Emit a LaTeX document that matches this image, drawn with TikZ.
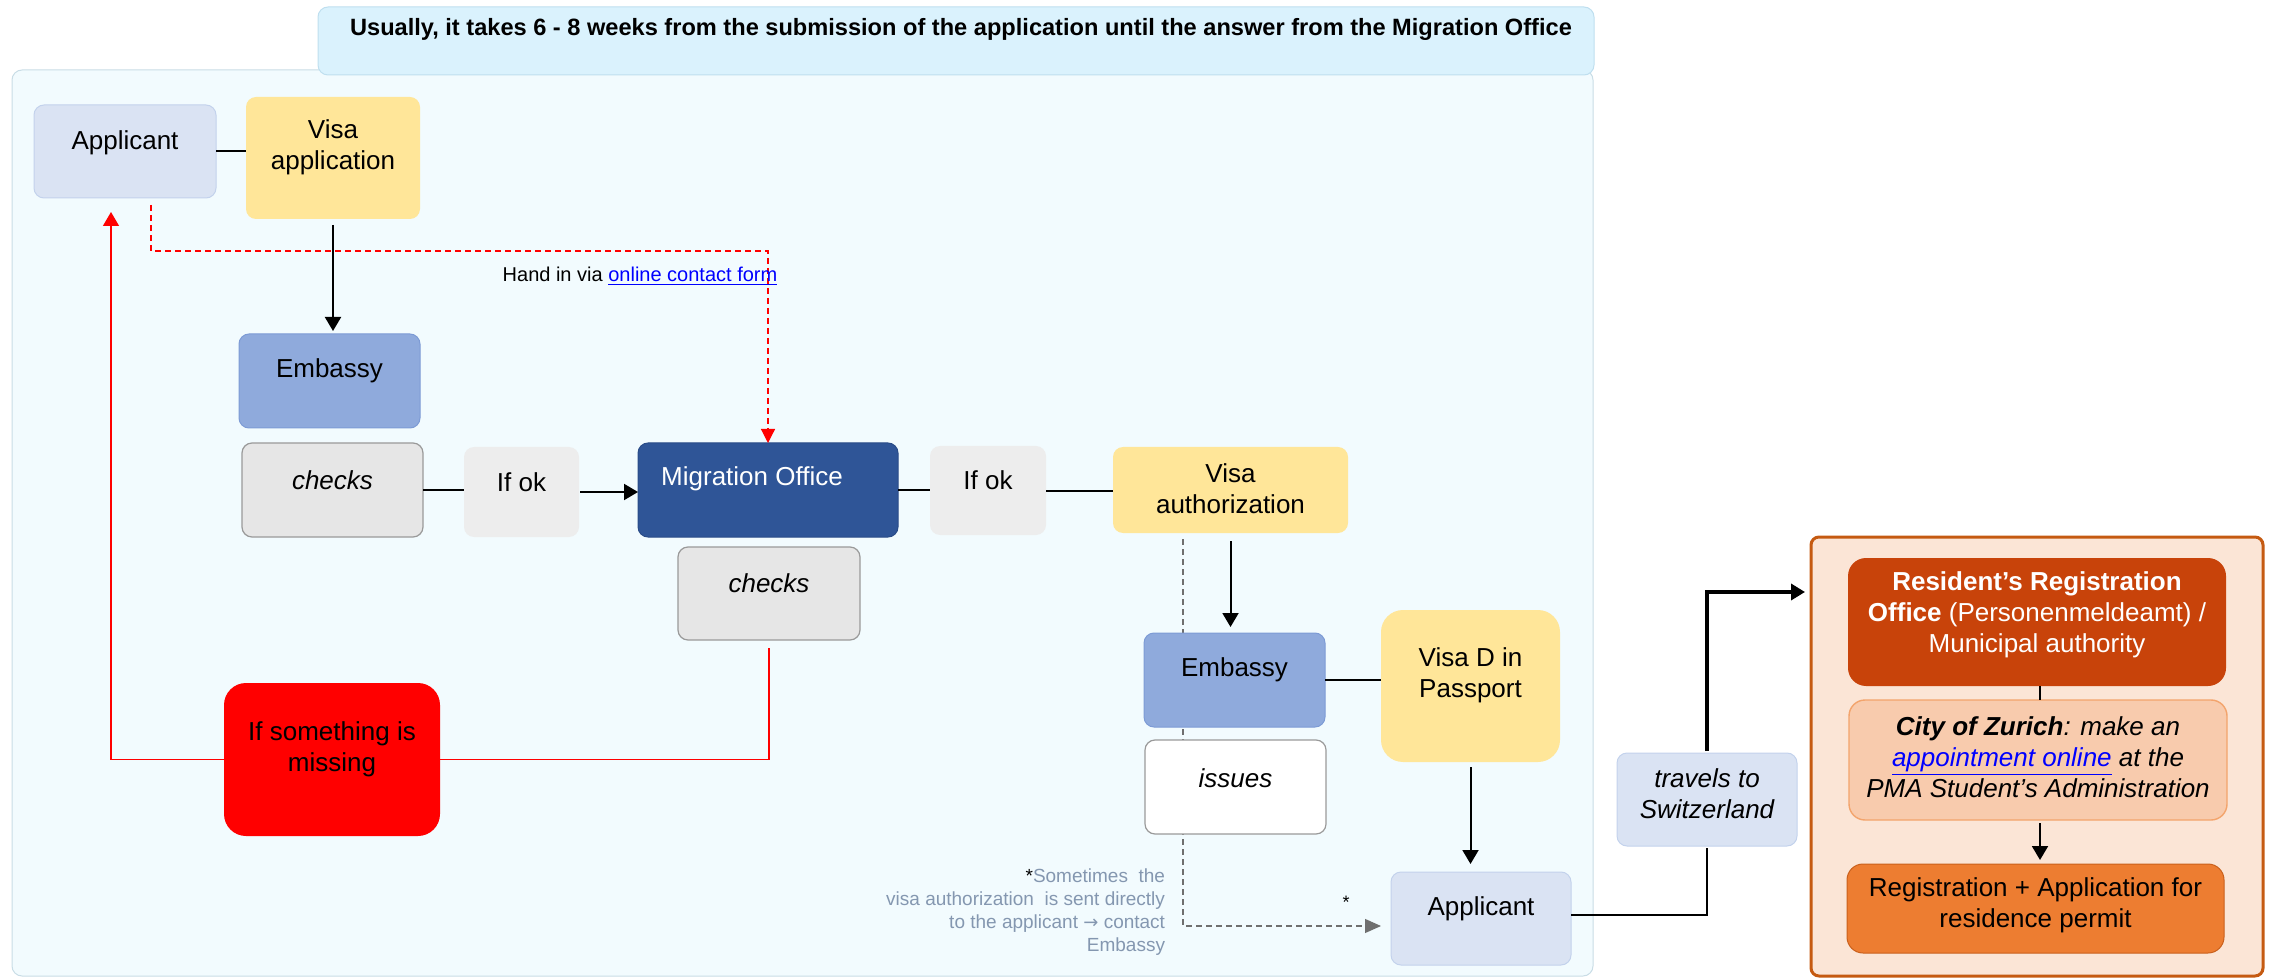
\documentclass[tikz,border=0pt]{standalone}
\usepackage{fontspec}
\setmainfont{Liberation Sans}
\newfontfamily\dejavu{DejaVu Sans}
\usetikzlibrary{arrows.meta,fit,calc}
\definecolor{bannerfill}{HTML}{DAF2FD}
\definecolor{bannerline}{HTML}{BFDFEF}
\definecolor{panelfill}{HTML}{F2FBFE}
\definecolor{panelline}{HTML}{C9DDE6}
\definecolor{appfill}{HTML}{DAE3F3}
\definecolor{appline}{HTML}{C3D2EC}
\definecolor{visafill}{HTML}{FFE699}
\definecolor{embfill}{HTML}{8FAADC}
\definecolor{embline}{HTML}{7D9BD5}
\definecolor{chkfill}{HTML}{E6E6E6}
\definecolor{chkline}{HTML}{9A9A9A}
\definecolor{okfill}{HTML}{EDEDED}
\definecolor{mofill}{HTML}{2F5597}
\definecolor{moline}{HTML}{2A4C88}
\definecolor{opfill}{HTML}{FBE5D6}
\definecolor{opline}{HTML}{C55A11}
\definecolor{resfill}{HTML}{C8430A}
\definecolor{cityfill}{HTML}{F8CBAD}
\definecolor{cityline}{HTML}{F3A46C}
\definecolor{regfill}{HTML}{ED7D31}
\definecolor{regline}{HTML}{C9601C}
\definecolor{linkblue}{HTML}{0000FF}
\definecolor{notegray}{HTML}{8497B0}
\definecolor{dashgray}{HTML}{6F6F6F}
\newcommand\fs[2]{\fontsize{#1}{#2}\selectfont}
\newcommand\pbox[8]{%
  \node[fit={(#2,#3) (#4,#5)}, #6] (#1) {};
  \node[txt, #7] (#1t) at (#1.center) {#8};}
\begin{document}
\begin{tikzpicture}[x=0.5pt,y=-0.5pt,
  every node/.style={inner sep=0pt, outer sep=0pt},
  txt/.style={font=\fs{13pt}{15.5pt}, align=center},
  rb/.style={rounded corners=5pt},
  bapp/.style={rb, fill=appfill, draw=appline, line width=0.5pt},
  bvisa/.style={rb, fill=visafill},
  bemb/.style={rb, fill=embfill, draw=embline, line width=0.5pt},
  bchk/.style={rb, fill=chkfill, draw=chkline, line width=0.6pt},
  bok/.style={rb, fill=okfill},
  bmo/.style={rb, fill=mofill, draw=moline, line width=0.5pt},
  biss/.style={rb, fill=white, draw=chkline, line width=0.6pt},
  bmiss/.style={rounded corners=11pt, fill=red},
  conn/.style={draw=black, line width=1pt},
  arr/.style={conn, -{Triangle[length=7pt,width=8pt]}},
  thickarr/.style={draw=black, line width=1.7pt, -{Triangle[length=7pt,width=8pt]}},
  redline/.style={draw=red, line width=0.7pt},
  redarr/.style={redline, -{Triangle[length=7pt,width=8pt]}},
  reddash/.style={draw=red, line width=0.6pt, dash pattern=on 3pt off 2pt, -{Triangle[length=7pt,width=7pt]}},
  graydash/.style={draw=dashgray, line width=0.6pt, dash pattern=on 3pt off 2pt, -{Triangle[length=8pt,width=7pt]}}
]
\useasboundingbox (0,0) rectangle (2270,978);
% panels
\node[fit={(12,70) (1593,976)}, rounded corners=5pt, fill=panelfill, draw=panelline, line width=0.5pt] (panel) {};
\node[fit={(318,7) (1594,75)}, rounded corners=5pt, fill=bannerfill, draw=bannerline, line width=0.5pt] (banner) {};
\node[font=\fs{11.8pt}{14pt}\bfseries] (bannert) at (961,29) {Usually, it takes 6 - 8 weeks from the submission of the application until the answer from the Migration Office};
\node[fit={(1811,537) (2263,976)}, rounded corners=4pt, fill=opfill, draw=opline, line width=1.5pt] (op) {};

% dashed gray connector (behind boxes)
\coordinate (vatop) at (1183,539);
\coordinate (appin) at (1381,926);
\draw[graydash] (vatop) |- (appin);

% boxes
\pbox{app1}{34}{105}{216}{198}{bapp}{yshift=4.5pt}{Applicant}
\pbox{visaapp}{246}{97}{420}{219}{bvisa}{yshift=5.5pt}{Visa\\application}
\pbox{emb1}{239}{334}{420}{428}{bemb}{yshift=5pt}{Embassy}
\pbox{chk1}{242}{443}{423}{537}{bchk}{yshift=5pt}{\itshape checks}
\pbox{ifok1}{464}{447}{579}{537}{bok}{yshift=5pt}{If ok}
\pbox{mo}{638}{443}{898}{537}{bmo}{yshift=5.5pt, xshift=-8pt, text=white}{Migration Office}
\pbox{chk2}{678}{547}{860}{640}{bchk}{yshift=5pt}{\itshape checks}
\pbox{ifok2}{930}{446}{1046}{535}{bok}{yshift=5pt}{If ok}
\pbox{va}{1113}{447}{1348}{533}{bvisa}{yshift=0.5pt}{Visa\\authorization}
\pbox{emb2}{1144}{633}{1325}{727}{bemb}{yshift=5pt}{Embassy}
\pbox{vd}{1381}{610}{1560}{762}{rounded corners=11pt, fill=visafill}{yshift=5.5pt}{Visa D in\\Passport}
\pbox{iss}{1145}{740}{1326}{834}{biss}{yshift=4.5pt}{\itshape issues}
\pbox{miss}{224}{683}{440}{836}{bmiss}{yshift=5pt}{If something is\\missing}
\pbox{app2}{1391}{872}{1571}{965}{bapp}{yshift=5pt}{Applicant}
\pbox{trav}{1617}{753}{1797}{846}{bapp}{yshift=3pt}{\itshape travels to\\\itshape Switzerland}
\pbox{res}{1848}{558}{2226}{686}{rounded corners=9pt, fill=resfill}{yshift=3.5pt, text=white}{\textbf{Resident’s Registration}\\\textbf{Office} (Personenmeldeamt) /\\Municipal authority}
\pbox{city}{1849}{700}{2227}{820}{rounded corners=8pt, fill=cityfill, draw=cityline, line width=0.7pt}{yshift=1.5pt}{\itshape\textbf{City of Zurich}: make an\\\itshape{\color{linkblue}\underline{appointment online}} at the\\\itshape PMA Student’s Administration}
\pbox{reg}{1847}{864}{2224}{953}{rounded corners=8pt, fill=regfill, draw=regline, line width=0.5pt}{yshift=1.5pt}{Registration + Application for\\residence permit}

% black connectors
\draw[conn] (app1.east) -- (app1.east -| visaapp.west);
\draw[arr, shorten <=3pt, shorten >=1.5pt] (visaapp.south) -- (visaapp.south |- emb1.north);
\draw[conn] (chk1.east) -- (chk1.east -| ifok1.west);
\draw[arr, shorten <=0.5pt] (ifok1.east) -- (ifok1.east -| mo.west);
\draw[conn] (mo.east) -- (mo.east -| ifok2.west);
\draw[conn] (ifok2.east) -- (ifok2.east -| va.west);
\draw[arr, shorten <=4pt, shorten >=3pt] (va.south) -- (va.south |- emb2.north);
\draw[conn] (emb2.east) -- (emb2.east -| vd.west);
\draw[arr, shorten <=2.5pt, shorten >=4pt] (vd.south) -- (vd.south |- app2.north);
\draw[conn] ($(app2.east)+(0,-4)$) -| ([yshift=-1pt]trav.south);
\draw[thickarr, shorten <=1pt, shorten >=3pt] (trav.north) |- ($(op.north west)+(0,55)$);
\draw[draw=black, line width=0.7pt] ([xshift=1.5pt]res.south) -- ([xshift=1.5pt]res.south |- city.north);
\draw[arr, shorten <=1.5pt, shorten >=2pt] ([xshift=1.5pt]res.south |- city.south) -- ([xshift=1.5pt]res.south |- reg.north);

% red connectors
\draw[redline] ([yshift=-4pt]chk2.south) |- (miss.east);
\draw[redarr] (miss.west) -| ($(app1.south)+(-14,14)$);
\draw[reddash] ($(app1.south)+(26,7)$) -- ++(0,46) -| (mo.north);

% labels
\node[font=\fs{10pt}{12pt}] (hand) at (640,276) {Hand in via {\color{linkblue}\underline{online contact form}}};
\node[font=\fs{9.5pt}{11.5pt}, align=right, anchor=north east, text=notegray] (note) at (1165,869) {{\color{black}*}Sometimes\ \ the\\visa authorization\ \ is sent directly\\to the applicant {\dejavu\fs{9pt}{11.5pt}→} contact\\Embassy};
\node[font=\fs{9pt}{10pt}] (star) at (1346,902) {*};
\end{tikzpicture}
\end{document}
